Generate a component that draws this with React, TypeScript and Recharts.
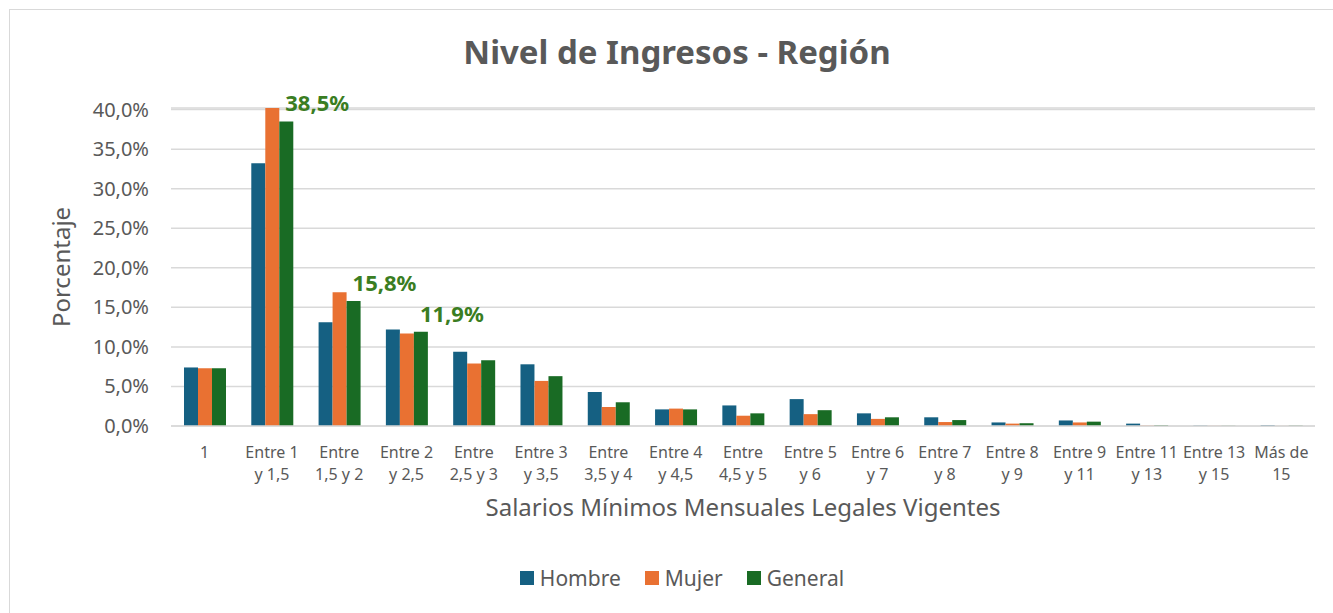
import { Bar, BarChart, CartesianGrid, LabelList, XAxis, YAxis } from "recharts";

const categories = [
  "1",
  "Entre 1\ny 1,5",
  "Entre\n1,5 y 2",
  "Entre 2\ny 2,5",
  "Entre\n2,5 y 3",
  "Entre 3\ny 3,5",
  "Entre\n3,5 y 4",
  "Entre 4\ny 4,5",
  "Entre\n4,5 y 5",
  "Entre 5\ny 6",
  "Entre 6\ny 7",
  "Entre 7\ny 8",
  "Entre 8\ny 9",
  "Entre 9\ny 11",
  "Entre 11\ny 13",
  "Entre 13\ny 15",
  "Más de\n15",
];

const hombre = [7.4, 33.2, 13.1, 12.2, 9.4, 7.8, 4.3, 2.1, 2.6, 3.4, 1.6, 1.1, 0.45, 0.7, 0.3, 0.05, 0.1];
const mujer = [7.3, 40.2, 16.9, 11.7, 7.9, 5.7, 2.4, 2.2, 1.3, 1.5, 0.9, 0.5, 0.3, 0.45, 0.05, 0.02, 0.01];
const general = [7.3, 38.5, 15.8, 11.9, 8.3, 6.3, 3.0, 2.1, 1.6, 2.0, 1.1, 0.75, 0.35, 0.55, 0.1, 0.03, 0.05];

// only these categories carry a value label on "General"
const labeledIdx = [1, 2, 3];

const yTicks = [0, 5, 10, 15, 20, 25, 30, 35, 40];

const series = [
  { key: "hombre", name: "Hombre", color: "#156082" },
  { key: "mujer", name: "Mujer", color: "#E97132" },
  { key: "general", name: "General", color: "#196B24" },
];

const fmt = (v: number) => v.toFixed(1).replace(".", ",") + "%";

const FONT = "'Noto Sans', sans-serif";
const GREY = "#595959";

function CatTick({ x, y, payload }: any) {
  const lines = String(payload.value).split("\n");
  return (
    <text x={x} y={y} textAnchor="middle" fill={GREY} style={{ fontSize: 16, fontFamily: FONT }}>
      {lines.map((l, i) => (
        <tspan key={i} x={x} dy={i === 0 ? 30 : 22}>
          {l}
        </tspan>
      ))}
    </text>
  );
}

function YTick({ x, y, payload }: any) {
  return (
    <text x={x} y={y} dy={7} textAnchor="end" fill={GREY} style={{ fontSize: 20, fontFamily: FONT }}>
      {fmt(payload.value)}
    </text>
  );
}

export default function App() {
  const data = categories.map((c, i) => ({
    cat: c,
    hombre: hombre[i],
    mujer: mujer[i],
    general: general[i],
  }));

  return (
    <div style={{ position: "absolute", left: 0, top: 0, width: 1333, height: 613, background: "#fff" }}>
      <div
        style={{
          position: "absolute",
          left: 9,
          top: 9,
          width: 1330,
          height: 610,
          border: "1px solid #d9d9d9",
          boxSizing: "border-box",
        }}
      />
      <div
        style={{
          position: "absolute",
          left: 0,
          top: 29,
          width: 1354,
          textAlign: "center",
          fontFamily: FONT,
          fontWeight: 700,
          fontSize: 33,
          color: GREY,
        }}
      >
        Nivel de Ingresos - Región
      </div>
      <div style={{ position: "absolute", left: 0, top: 0 }}>
        <BarChart
          width={1333}
          height={613}
          data={data}
          margin={{ top: 108, right: 18, bottom: 127, left: 0 }}
          barSize={14}
          barGap={0}
        >
          <CartesianGrid vertical={false} stroke="#d9d9d9" strokeWidth={1.5} />
          <XAxis
            dataKey="cat"
            interval={0}
            tickLine={false}
            tickSize={0}
            axisLine={{ stroke: "#d9d9d9", strokeWidth: 1.5 }}
            tick={<CatTick />}
            height={60}
          />
          <YAxis
            width={171}
            domain={[0, 40]}
            ticks={yTicks}
            axisLine={false}
            tickLine={false}
            tickSize={0}
            tickMargin={22}
            tick={<YTick />}
          />
          {series.map((s) => (
            <Bar key={s.key} dataKey={s.key} name={s.name} fill={s.color} isAnimationActive={false}>
              {s.key === "general" && (
                <LabelList
                  dataKey="general"
                  content={(p: any) =>
                    labeledIdx.includes(p.index) ? (
                      <text
                        x={p.x + 6}
                        y={p.y - 10}
                        fill="#3A7D22"
                        style={{ fontSize: 22, fontWeight: 700, fontFamily: FONT }}
                      >
                        {fmt(p.value)}
                      </text>
                    ) : null
                  }
                />
              )}
            </Bar>
          ))}
        </BarChart>
      </div>
      <div
        style={{
          position: "absolute",
          left: 60,
          top: 267,
          transform: "translate(-50%, -50%) rotate(-90deg)",
          fontFamily: FONT,
          fontSize: 24,
          color: GREY,
          whiteSpace: "nowrap",
        }}
      >
        Porcentaje
      </div>
      <div
        style={{
          position: "absolute",
          left: 171,
          top: 490,
          width: 1144,
          textAlign: "center",
          fontFamily: FONT,
          fontSize: 24,
          color: GREY,
        }}
      >
        Salarios Mínimos Mensuales Legales Vigentes
      </div>
      <div
        style={{
          position: "absolute",
          left: 0,
          top: 564,
          width: 1364,
          display: "flex",
          justifyContent: "center",
          gap: 24,
          fontFamily: FONT,
          fontSize: 21,
          color: GREY,
        }}
      >
        {series.map((s) => (
          <div key={s.key} style={{ display: "flex", alignItems: "center", gap: 6 }}>
            <span style={{ width: 14, height: 14, background: s.color, display: "inline-block" }} />
            <span>{s.name}</span>
          </div>
        ))}
      </div>
    </div>
  );
}
